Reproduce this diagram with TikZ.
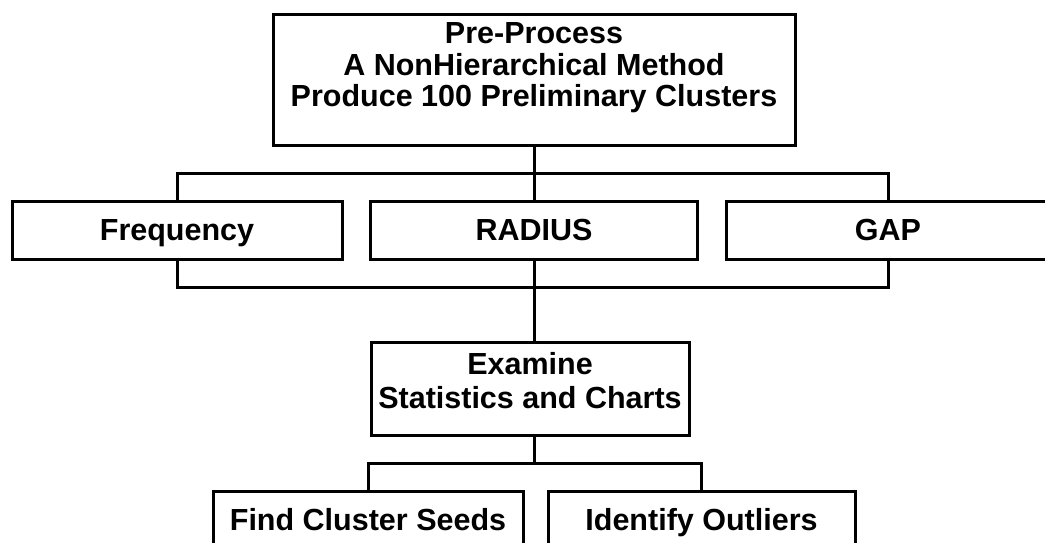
\documentclass[tikz,border=0pt]{standalone}
\usepackage{fontspec}
\setmainfont{Liberation Sans}
\begin{document}
\begin{tikzpicture}[x=1pt,y=-1pt,
  box/.style={draw, line width=3pt, inner sep=0pt},
  link/.style={line width=3pt},
  txt/.style={inner sep=0pt, align=center, font=\fontsize{30.5}{31.5}\selectfont\bfseries}]
  \clip (0,0) rectangle (1045,543);
  \fill[white] (0,0) rectangle (1045,543);

  % top process box
  \node[box, minimum width=522pt, minimum height=130pt] (pre) at (534,80) {};
  \node[txt, anchor=north] (pretext) at (534,22.5)
    {Pre-Process\\A NonHierarchical Method\\Produce 100 Preliminary Clusters};

  % three measures
  \node[box, minimum width=330pt, minimum height=58pt] (freq) at (177,230) {};
  \node[box, minimum width=327pt, minimum height=58pt] (radius) at (534,230) {};
  \node[box, minimum width=324pt, minimum height=58pt] (gap) at (888,230) {};
  \node[txt, anchor=base] (freqtext) at (177,240) {Frequency};
  \node[txt, anchor=base] (radiustext) at (534,240) {RADIUS};
  \node[txt, anchor=base] (gaptext) at (888,240) {GAP};

  % examine box
  \node[box, minimum width=318pt, minimum height=93pt] (exam) at (530,388.5) {};
  \node[txt, anchor=north, font=\fontsize{30.5}{34}\selectfont\bfseries] (examtext) at (530,352)
    {Examine\\Statistics and Charts};

  % outcomes
  \node[box, minimum width=310pt, minimum height=80pt] (find) at (368,531) {};
  \node[box, minimum width=307pt, minimum height=80pt] (ident) at (701.5,531) {};
  \node[txt, anchor=base] (findtext) at (368,530) {Find Cluster Seeds};
  \node[txt, anchor=base] (identtext) at (701.5,530) {Identify Outliers};

  % bracket junctions
  \coordinate (ub) at (534,173);
  \coordinate (lb) at (534,287);
  \coordinate (eb) at (534,463);

  % connectors
  \draw[link] (pre.south) -- (radius.north);
  \draw[link] (freq.north) |- (ub) -| (gap.north);
  \draw[link] (freq.south) |- (lb) -| (gap.south);
  \draw[link] (radius.south) -- (radius.south |- exam.north);
  \draw[link] (exam.south -| eb) -- (eb);
  \draw[link] (find.north) |- (eb) -| (ident.north);
\end{tikzpicture}
\end{document}
